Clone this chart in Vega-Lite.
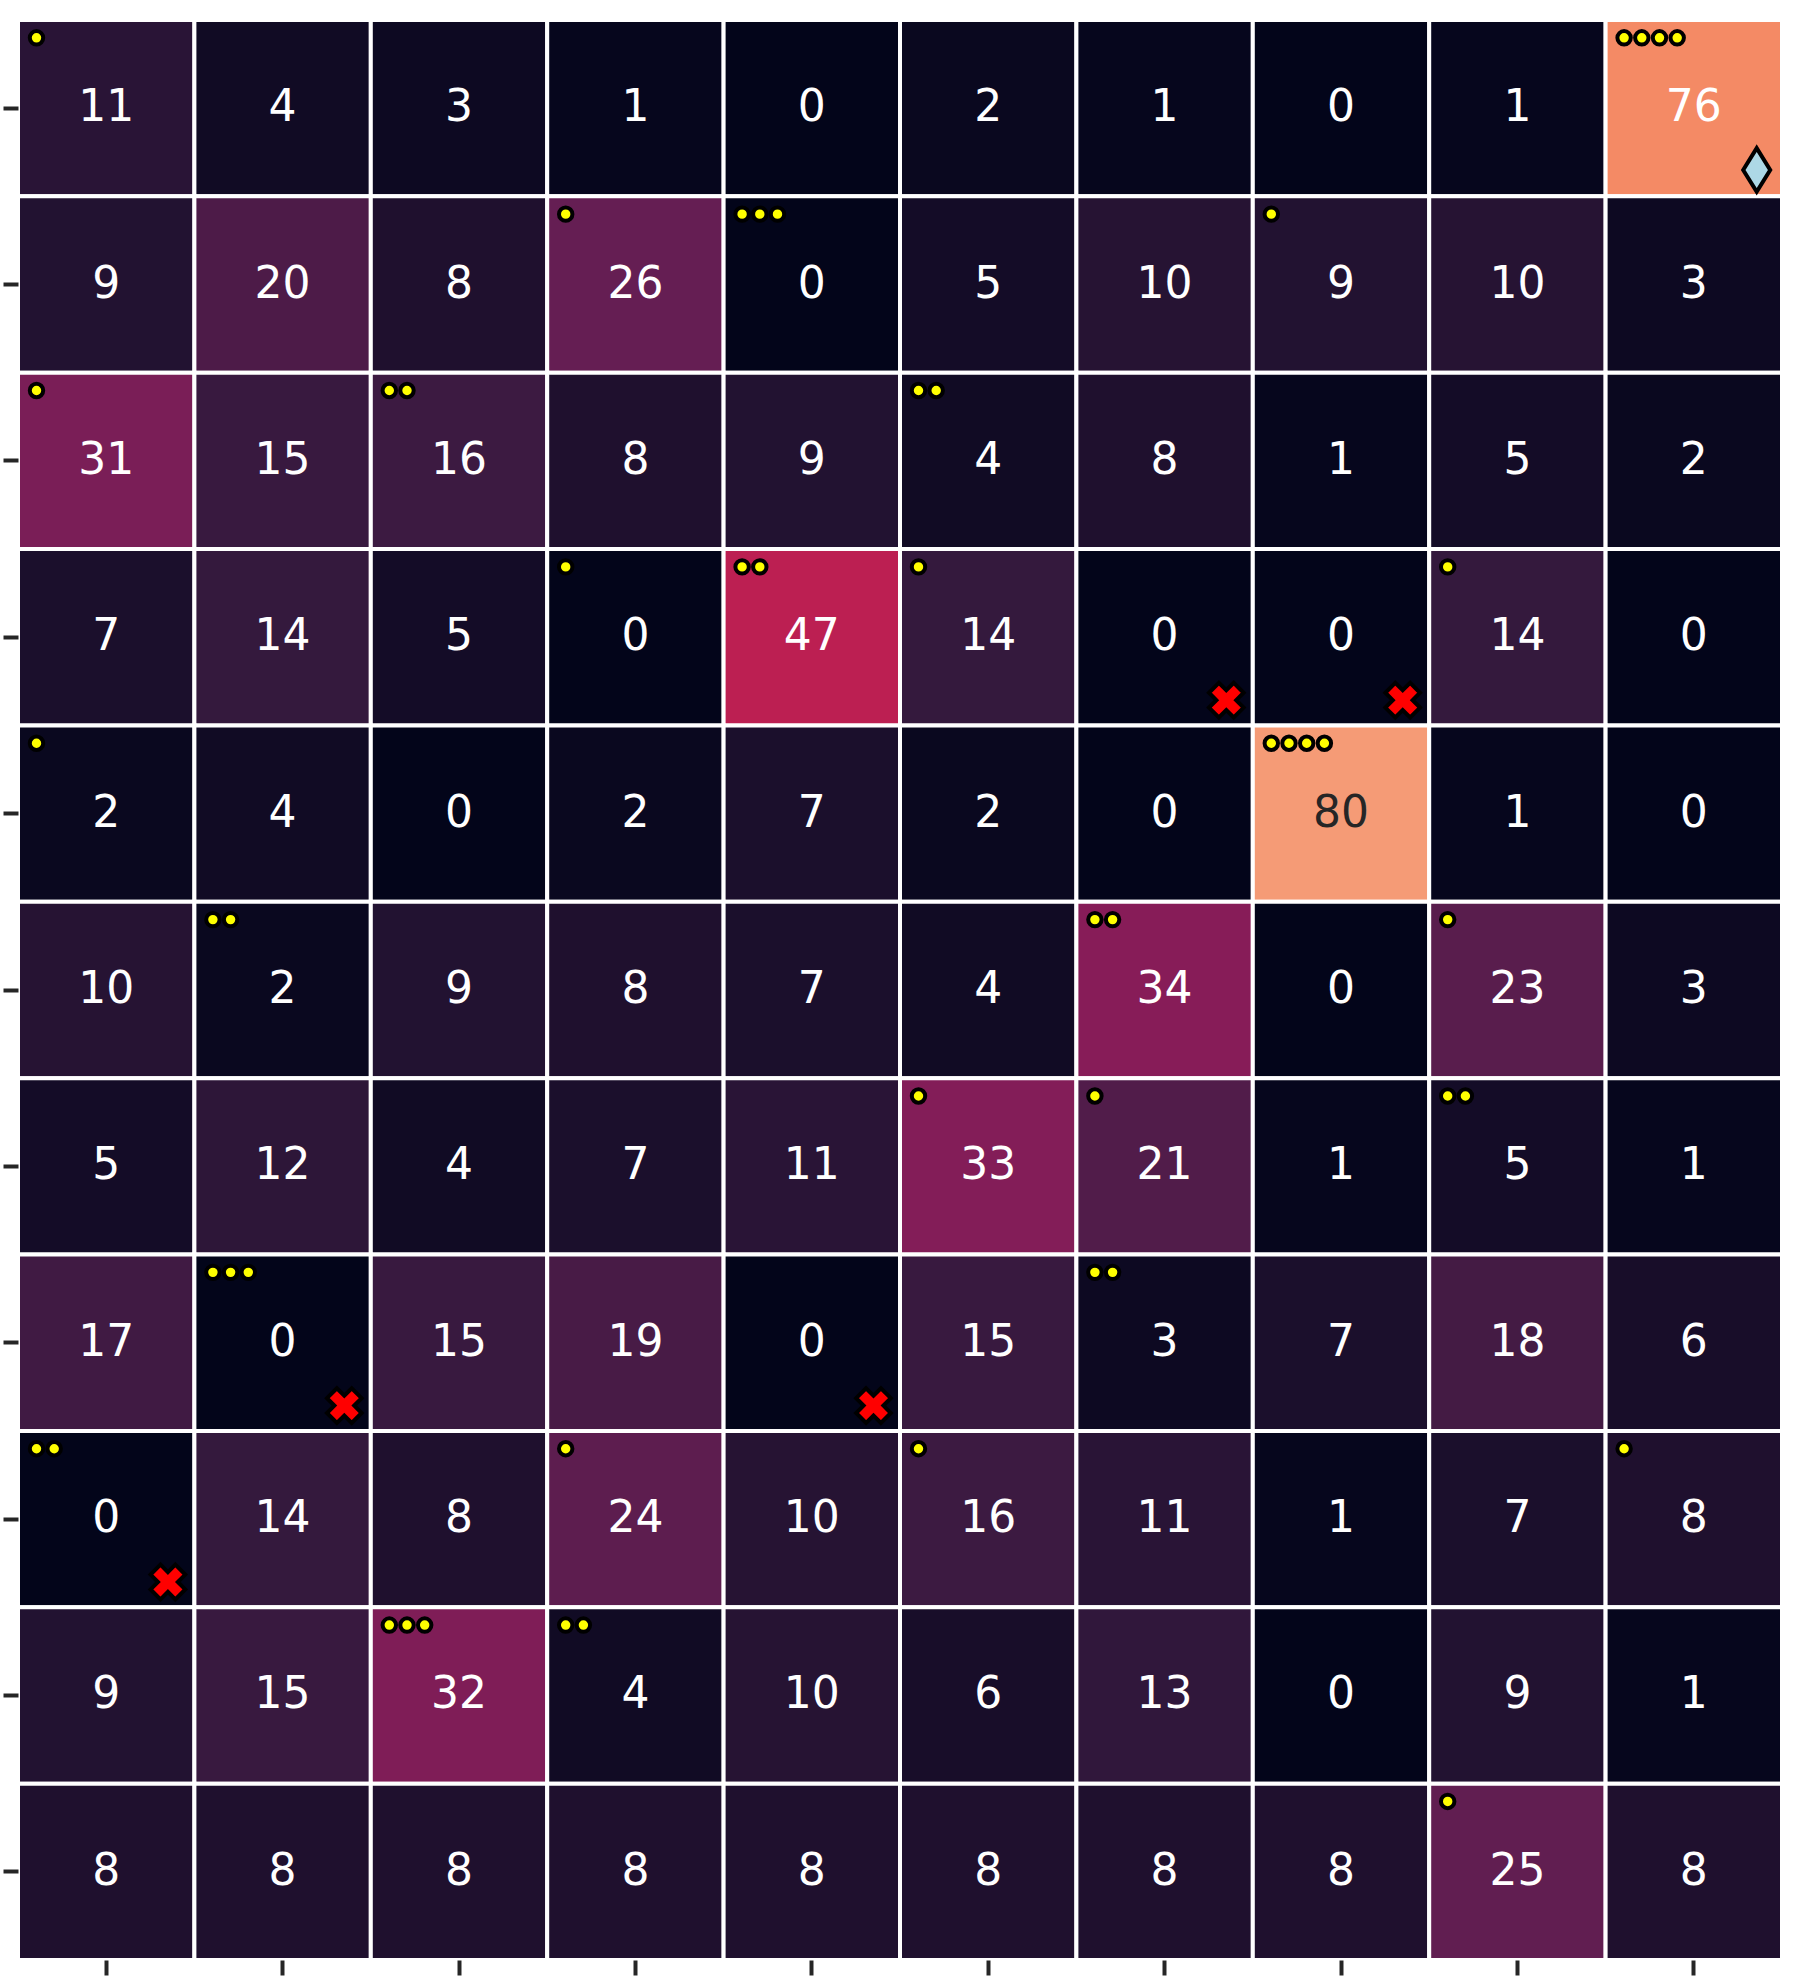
{
  "$schema": "https://vega.github.io/schema/vega-lite/v6.json",
  "width": 1764,
  "height": 1940,
  "autosize": {"type": "none"},
  "padding": {"left": 18, "top": 20, "right": 18, "bottom": 20},
  "background": "white",
  "config": {
    "view": {"stroke": null},
    "axis": {"labels": false, "title": null, "domain": false, "grid": false, "ticks": true, "tickSize": 15, "tickWidth": 4, "tickColor": "#262626"}
  },
  "datasets": {
    "cells": [
      {"r":0,"c":0,"v":11},{"r":0,"c":1,"v":4},{"r":0,"c":2,"v":3},{"r":0,"c":3,"v":1},{"r":0,"c":4,"v":0},{"r":0,"c":5,"v":2},{"r":0,"c":6,"v":1},{"r":0,"c":7,"v":0},{"r":0,"c":8,"v":1},{"r":0,"c":9,"v":76},
      {"r":1,"c":0,"v":9},{"r":1,"c":1,"v":20},{"r":1,"c":2,"v":8},{"r":1,"c":3,"v":26},{"r":1,"c":4,"v":0},{"r":1,"c":5,"v":5},{"r":1,"c":6,"v":10},{"r":1,"c":7,"v":9},{"r":1,"c":8,"v":10},{"r":1,"c":9,"v":3},
      {"r":2,"c":0,"v":31},{"r":2,"c":1,"v":15},{"r":2,"c":2,"v":16},{"r":2,"c":3,"v":8},{"r":2,"c":4,"v":9},{"r":2,"c":5,"v":4},{"r":2,"c":6,"v":8},{"r":2,"c":7,"v":1},{"r":2,"c":8,"v":5},{"r":2,"c":9,"v":2},
      {"r":3,"c":0,"v":7},{"r":3,"c":1,"v":14},{"r":3,"c":2,"v":5},{"r":3,"c":3,"v":0},{"r":3,"c":4,"v":47},{"r":3,"c":5,"v":14},{"r":3,"c":6,"v":0},{"r":3,"c":7,"v":0},{"r":3,"c":8,"v":14},{"r":3,"c":9,"v":0},
      {"r":4,"c":0,"v":2},{"r":4,"c":1,"v":4},{"r":4,"c":2,"v":0},{"r":4,"c":3,"v":2},{"r":4,"c":4,"v":7},{"r":4,"c":5,"v":2},{"r":4,"c":6,"v":0},{"r":4,"c":7,"v":80},{"r":4,"c":8,"v":1},{"r":4,"c":9,"v":0},
      {"r":5,"c":0,"v":10},{"r":5,"c":1,"v":2},{"r":5,"c":2,"v":9},{"r":5,"c":3,"v":8},{"r":5,"c":4,"v":7},{"r":5,"c":5,"v":4},{"r":5,"c":6,"v":34},{"r":5,"c":7,"v":0},{"r":5,"c":8,"v":23},{"r":5,"c":9,"v":3},
      {"r":6,"c":0,"v":5},{"r":6,"c":1,"v":12},{"r":6,"c":2,"v":4},{"r":6,"c":3,"v":7},{"r":6,"c":4,"v":11},{"r":6,"c":5,"v":33},{"r":6,"c":6,"v":21},{"r":6,"c":7,"v":1},{"r":6,"c":8,"v":5},{"r":6,"c":9,"v":1},
      {"r":7,"c":0,"v":17},{"r":7,"c":1,"v":0},{"r":7,"c":2,"v":15},{"r":7,"c":3,"v":19},{"r":7,"c":4,"v":0},{"r":7,"c":5,"v":15},{"r":7,"c":6,"v":3},{"r":7,"c":7,"v":7},{"r":7,"c":8,"v":18},{"r":7,"c":9,"v":6},
      {"r":8,"c":0,"v":0},{"r":8,"c":1,"v":14},{"r":8,"c":2,"v":8},{"r":8,"c":3,"v":24},{"r":8,"c":4,"v":10},{"r":8,"c":5,"v":16},{"r":8,"c":6,"v":11},{"r":8,"c":7,"v":1},{"r":8,"c":8,"v":7},{"r":8,"c":9,"v":8},
      {"r":9,"c":0,"v":9},{"r":9,"c":1,"v":15},{"r":9,"c":2,"v":32},{"r":9,"c":3,"v":4},{"r":9,"c":4,"v":10},{"r":9,"c":5,"v":6},{"r":9,"c":6,"v":13},{"r":9,"c":7,"v":0},{"r":9,"c":8,"v":9},{"r":9,"c":9,"v":1},
      {"r":10,"c":0,"v":8},{"r":10,"c":1,"v":8},{"r":10,"c":2,"v":8},{"r":10,"c":3,"v":8},{"r":10,"c":4,"v":8},{"r":10,"c":5,"v":8},{"r":10,"c":6,"v":8},{"r":10,"c":7,"v":8},{"r":10,"c":8,"v":25},{"r":10,"c":9,"v":8}
    ],
    "dots": [
      {"r":0,"c":0,"n":1},{"r":0,"c":9,"n":4},
      {"r":1,"c":3,"n":1},{"r":1,"c":4,"n":3},{"r":1,"c":7,"n":1},
      {"r":2,"c":0,"n":1},{"r":2,"c":2,"n":2},{"r":2,"c":5,"n":2},
      {"r":3,"c":3,"n":1},{"r":3,"c":4,"n":2},{"r":3,"c":5,"n":1},{"r":3,"c":8,"n":1},
      {"r":4,"c":0,"n":1},{"r":4,"c":7,"n":4},
      {"r":5,"c":1,"n":2},{"r":5,"c":6,"n":2},{"r":5,"c":8,"n":1},
      {"r":6,"c":5,"n":1},{"r":6,"c":6,"n":1},{"r":6,"c":8,"n":2},
      {"r":7,"c":1,"n":3},{"r":7,"c":6,"n":2},
      {"r":8,"c":0,"n":2},{"r":8,"c":3,"n":1},{"r":8,"c":5,"n":1},{"r":8,"c":9,"n":1},
      {"r":9,"c":2,"n":3},{"r":9,"c":3,"n":2},
      {"r":10,"c":8,"n":1}
    ],
    "marks": [
      {"r":0,"c":9,"s":"diamond"},
      {"r":3,"c":6,"s":"x"},{"r":3,"c":7,"s":"x"},
      {"r":7,"c":1,"s":"x"},{"r":7,"c":4,"s":"x"},
      {"r":8,"c":0,"s":"x"}
    ]
  },
  "encoding": {
    "x": {"field": "c", "type": "ordinal", "scale": {"paddingInner": 0, "paddingOuter": 0}, "axis": {"orient": "bottom", "title": null}},
    "y": {"field": "r", "type": "ordinal", "scale": {"paddingInner": 0, "paddingOuter": 0}, "axis": {"orient": "left", "title": null}}
  },
  "layer": [
    {
      "data": {"name": "cells"},
      "mark": {"type": "rect", "stroke": "white", "strokeWidth": 4},
      "encoding": {
        "color": {"field": "v", "type": "quantitative", "legend": null,
          "scale": {"domain": [0, 14.286, 28.571, 42.857, 57.143, 71.429, 85.714, 100],
                    "range": ["#03051a", "#35193e", "#701f57", "#ad1759", "#e13342", "#f37651", "#f6b48f", "#faebdd"],
                    "interpolate": "rgb"}}
      }
    },
    {
      "data": {"name": "cells"},
      "mark": {"type": "text", "font": "DejaVu Sans", "fontSize": 44, "baseline": "middle", "align": "center", "dy": 0},
      "encoding": {
        "text": {"field": "v", "type": "quantitative"},
        "color": {"condition": {"test": "datum.v >= 78", "value": "#262626"}, "value": "white"}
      }
    },
    {
      "data": {"name": "dots"},
      "transform": [{"filter": "datum.n > 0"}],
      "mark": {"type": "point", "shape": "circle", "filled": true, "fill": "yellow", "stroke": "black", "strokeWidth": 4, "size": 180, "opacity": 1, "xOffset": 18.5, "yOffset": 17.8},
      "encoding": {
        "x": {"field": "c", "type": "ordinal", "bandPosition": 0},
        "y": {"field": "r", "type": "ordinal", "bandPosition": 0}
      }
    },
    {
      "data": {"name": "dots"},
      "transform": [{"filter": "datum.n > 1"}],
      "mark": {"type": "point", "shape": "circle", "filled": true, "fill": "yellow", "stroke": "black", "strokeWidth": 4, "size": 180, "opacity": 1, "xOffset": 36.2, "yOffset": 17.8},
      "encoding": {
        "x": {"field": "c", "type": "ordinal", "bandPosition": 0},
        "y": {"field": "r", "type": "ordinal", "bandPosition": 0}
      }
    },
    {
      "data": {"name": "dots"},
      "transform": [{"filter": "datum.n > 2"}],
      "mark": {"type": "point", "shape": "circle", "filled": true, "fill": "yellow", "stroke": "black", "strokeWidth": 4, "size": 180, "opacity": 1, "xOffset": 53.9, "yOffset": 17.8},
      "encoding": {
        "x": {"field": "c", "type": "ordinal", "bandPosition": 0},
        "y": {"field": "r", "type": "ordinal", "bandPosition": 0}
      }
    },
    {
      "data": {"name": "dots"},
      "transform": [{"filter": "datum.n > 3"}],
      "mark": {"type": "point", "shape": "circle", "filled": true, "fill": "yellow", "stroke": "black", "strokeWidth": 4, "size": 180, "opacity": 1, "xOffset": 71.6, "yOffset": 17.8},
      "encoding": {
        "x": {"field": "c", "type": "ordinal", "bandPosition": 0},
        "y": {"field": "r", "type": "ordinal", "bandPosition": 0}
      }
    },
    {
      "data": {"name": "marks"},
      "transform": [{"filter": "datum.s === 'x'"}],
      "mark": {"type": "point", "shape": "cross", "angle": 45, "filled": true, "fill": "red", "stroke": "black", "strokeWidth": 4, "size": 1225, "opacity": 1, "xOffset": -26.5, "yOffset": -25.3},
      "encoding": {
        "x": {"field": "c", "type": "ordinal", "bandPosition": 1},
        "y": {"field": "r", "type": "ordinal", "bandPosition": 1}
      }
    },
    {
      "data": {"name": "marks"},
      "transform": [{"filter": "datum.s === 'diamond'"}],
      "mark": {"type": "point", "shape": "M0,-1L0.62,0L0,1L-0.62,0Z", "filled": true, "fill": "#add8e6", "stroke": "black", "strokeWidth": 4, "size": 1900, "opacity": 1, "xOffset": -25.3, "yOffset": -26.4},
      "encoding": {
        "x": {"field": "c", "type": "ordinal", "bandPosition": 1},
        "y": {"field": "r", "type": "ordinal", "bandPosition": 1}
      }
    }
  ]
}
